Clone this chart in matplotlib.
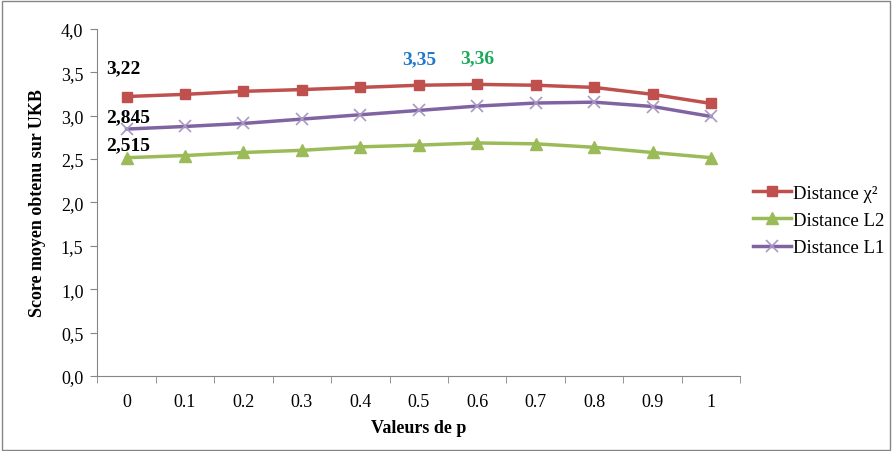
#!/usr/bin/env python3
"""Score moyen obtenu sur UKB selon p, pour trois distances."""
import matplotlib
matplotlib.use("Agg")
import matplotlib.pyplot as plt
from matplotlib.ticker import FixedLocator, NullFormatter

P_LABELS = ["0", "0.1", "0.2", "0.3", "0.4", "0.5", "0.6", "0.7", "0.8", "0.9", "1"]
CHI2 = [3.22, 3.245, 3.28, 3.30, 3.325, 3.35, 3.36, 3.35, 3.325, 3.245, 3.14]
L2 = [2.515, 2.54, 2.575, 2.60, 2.64, 2.66, 2.685, 2.675, 2.635, 2.575, 2.515]
L1 = [2.845, 2.875, 2.91, 2.96, 3.01, 3.06, 3.11, 3.145, 3.155, 3.105, 2.99]
Y_TICKS = [0.0, 0.5, 1.0, 1.5, 2.0, 2.5, 3.0, 3.5, 4.0]

RED, GREEN, PURPLE = "#C0504D", "#9BBB59", "#8064A2"
GRAY = "#868686"
FONT = "Liberation Serif"

plt.rcParams.update({"font.family": FONT})

fig = plt.figure(figsize=(8.93, 4.52), dpi=100)
ax = fig.add_axes([0.109, 0.166, 0.720, 0.768])

x = list(range(len(P_LABELS)))
h_chi, = ax.plot(x, CHI2, color=RED, lw=2.5, marker="s", ms=7,
                 label="Distance χ²")
h_l2, = ax.plot(x, L2, color=GREEN, lw=2.5, marker="^", ms=8,
                label="Distance L2")
h_l1, = ax.plot(x, L1, color=PURPLE, lw=2.5, marker="x", ms=8, mew=1.2,
                mec="#A898C4", label="Distance L1")

ax.set_xlim(-0.5, len(P_LABELS) - 0.5)
ax.set_ylim(0, 4)
ax.set_xticks(x)
ax.set_xticklabels(P_LABELS, fontsize=13)
ax.tick_params(axis="x", which="major", length=0, pad=12)
ax.xaxis.set_minor_locator(FixedLocator([i - 0.5 for i in range(len(P_LABELS) + 1)]))
ax.xaxis.set_minor_formatter(NullFormatter())
ax.tick_params(axis="x", which="minor", length=5, color=GRAY, direction="out")
ax.set_yticks(Y_TICKS)
ax.set_yticklabels([f"{v:.1f}".replace(".", ",") for v in Y_TICKS], fontsize=13)
ax.tick_params(axis="y", length=5, color=GRAY, direction="out", pad=5)
for s in ("top", "right"):
    ax.spines[s].set_visible(False)
for s in ("left", "bottom"):
    ax.spines[s].set_color(GRAY)

ax.set_xlabel("Valeurs de p", fontsize=13, fontweight="bold", labelpad=7)
ax.set_ylabel("Score moyen obtenu sur UKB", fontsize=13, fontweight="bold",
              labelpad=11)

# data labels
lab = dict(textcoords="offset points", fontsize=14, fontweight="bold",
           va="center")
ax.annotate("3,22", (0, CHI2[0]), xytext=(-15, 21), ha="left", **lab)
ax.annotate("2,845", (0, L1[0]), xytext=(-15, 9), ha="left", **lab)
ax.annotate("2,515", (0, L2[0]), xytext=(-15, 9), ha="left", **lab)
ax.annotate("3,35", (5, CHI2[5]), xytext=(0, 19), ha="center", color="#1F78C8", **lab)
ax.annotate("3,36", (6, CHI2[6]), xytext=(0, 19), ha="center", color="#1BAA5A", **lab)

fig.legend(handles=[h_chi, h_l2, h_l1], loc="center left",
           bbox_to_anchor=(0.835, 0.51), frameon=False, fontsize=13.5,
           handlelength=2.0, handletextpad=0.1, labelspacing=0.55,
           borderaxespad=0)

# outer chart border
fig.patches.append(plt.Rectangle((0.002, 0.003), 0.995, 0.993,
                                 transform=fig.transFigure, fill=False,
                                 edgecolor=GRAY, lw=1.0))

fig.savefig("out.png", dpi=100)
